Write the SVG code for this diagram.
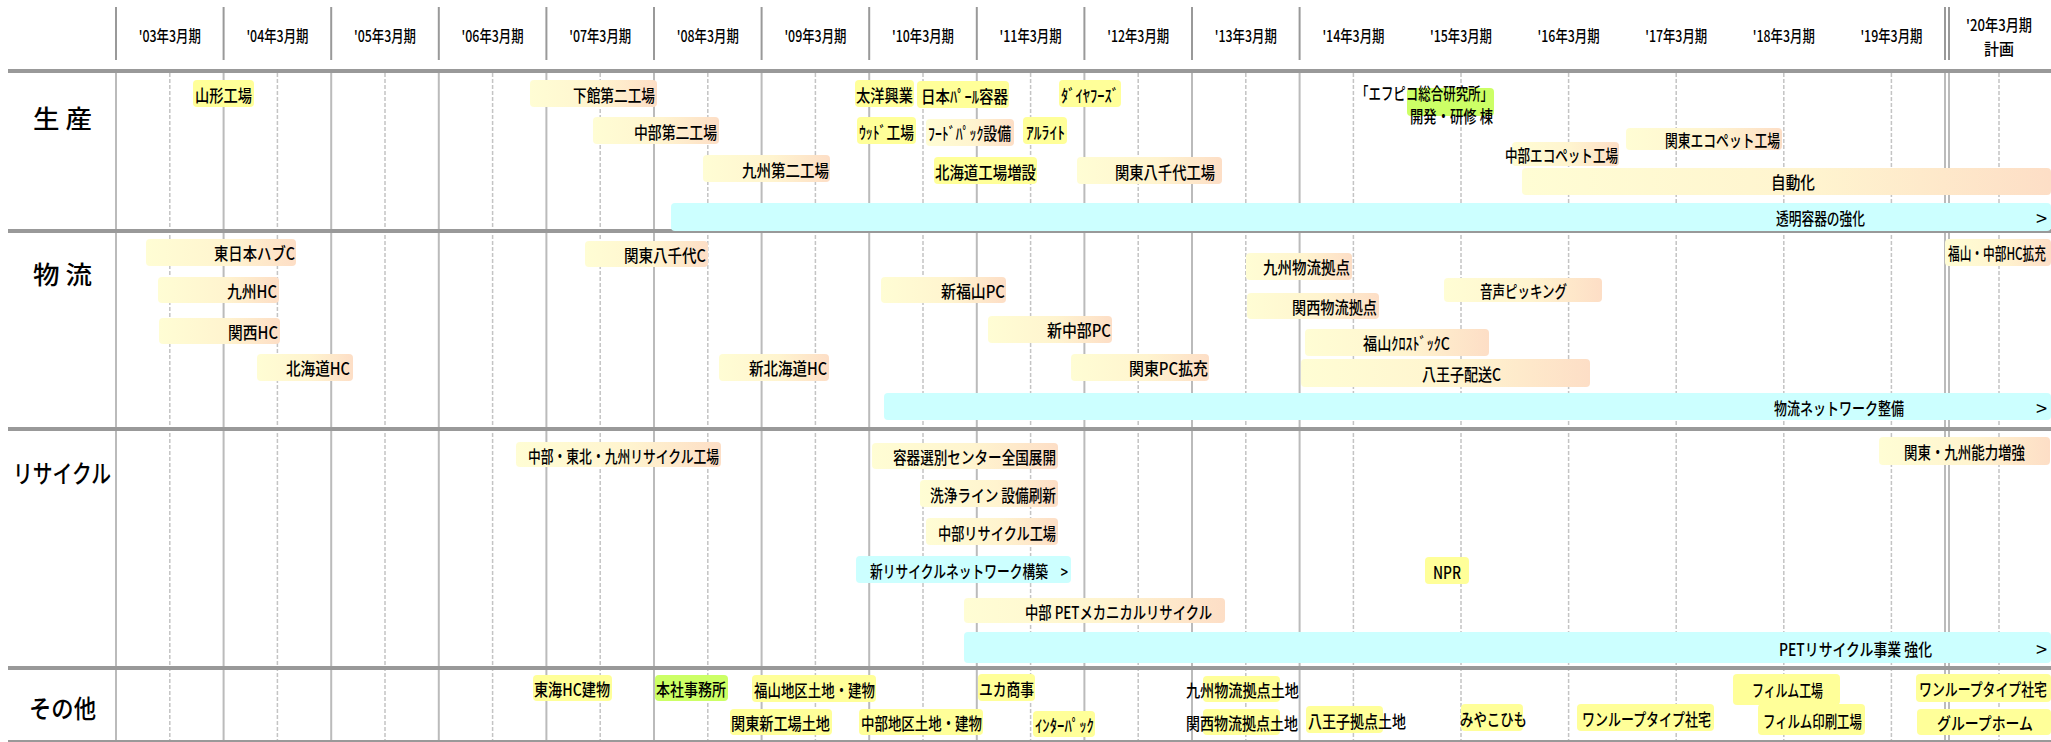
<svg xmlns="http://www.w3.org/2000/svg" width="2051" height="742" viewBox="0 0 2051 742">
<defs>
<linearGradient id="grad" x1="0" y1="0" x2="1" y2="0">
<stop offset="0" stop-color="#FFFDD4"/>
<stop offset="0.55" stop-color="#FFF4CF"/>
<stop offset="1" stop-color="#FDDEC6"/>
</linearGradient>
<style>
text{font-family:"Noto Sans CJK JP","Noto Sans CJK SC",sans-serif;fill:#000;dominant-baseline:central;font-weight:500}
.t{font-size:17px}
.h{font-size:16px;text-anchor:middle}
.L{font-size:25px}
.g{fill:url(#grad)}
.y{fill:#FFFF99}
.gr{fill:#CCFF66}
.c{fill:#CCFFFF}
.hs{stroke:#999999;stroke-width:2}
.vs{stroke:#BBBBBB;stroke-width:2}
.vd{stroke:#C4C4C4;stroke-width:1.5;stroke-dasharray:4 2}
.hl{stroke:#999999;stroke-width:4}
.ar{font-size:20px;font-weight:400}
</style>
</defs>
<rect width="2051" height="742" fill="#FFFFFF"/>
<g id="grid">
<g id="header-separators">
<line class="hs" x1="116" y1="7" x2="116" y2="60"/>
<line class="hs" x1="223.6" y1="7" x2="223.6" y2="60"/>
<line class="hs" x1="331.2" y1="7" x2="331.2" y2="60"/>
<line class="hs" x1="438.8" y1="7" x2="438.8" y2="60"/>
<line class="hs" x1="546.4" y1="7" x2="546.4" y2="60"/>
<line class="hs" x1="654" y1="7" x2="654" y2="60"/>
<line class="hs" x1="761.6" y1="7" x2="761.6" y2="60"/>
<line class="hs" x1="869.2" y1="7" x2="869.2" y2="60"/>
<line class="hs" x1="976.8" y1="7" x2="976.8" y2="60"/>
<line class="hs" x1="1084.4" y1="7" x2="1084.4" y2="60"/>
<line class="hs" x1="1192" y1="7" x2="1192" y2="60"/>
<line class="hs" x1="1299.6" y1="7" x2="1299.6" y2="60"/>
<line class="hs" x1="1945" y1="7" x2="1945" y2="60"/>
<line class="hs" x1="1949" y1="7" x2="1949" y2="60"/>
</g>
<g id="dashed">
<line class="vd" x1="169.8" y1="73" x2="169.8" y2="742"/>
<line class="vd" x1="277.4" y1="73" x2="277.4" y2="742"/>
<line class="vd" x1="385" y1="73" x2="385" y2="742"/>
<line class="vd" x1="492.6" y1="73" x2="492.6" y2="742"/>
<line class="vd" x1="600.2" y1="73" x2="600.2" y2="742"/>
<line class="vd" x1="707.8" y1="73" x2="707.8" y2="742"/>
<line class="vd" x1="815.4" y1="73" x2="815.4" y2="742"/>
<line class="vd" x1="923" y1="73" x2="923" y2="742"/>
<line class="vd" x1="1030.6" y1="73" x2="1030.6" y2="742"/>
<line class="vd" x1="1138.2" y1="73" x2="1138.2" y2="742"/>
<line class="vd" x1="1245.8" y1="73" x2="1245.8" y2="742"/>
<line class="vd" x1="1353.4" y1="73" x2="1353.4" y2="742"/>
<line class="vd" x1="1461" y1="73" x2="1461" y2="742"/>
<line class="vd" x1="1568.6" y1="73" x2="1568.6" y2="742"/>
<line class="vd" x1="1676.2" y1="73" x2="1676.2" y2="742"/>
<line class="vd" x1="1783.8" y1="73" x2="1783.8" y2="742"/>
<line class="vd" x1="1891.4" y1="73" x2="1891.4" y2="742"/>
<line class="vd" x1="1999" y1="73" x2="1999" y2="742"/>
</g>
<g id="solid">
<line class="vs" x1="116" y1="73" x2="116" y2="742"/>
<line class="vs" x1="223.6" y1="73" x2="223.6" y2="742"/>
<line class="vs" x1="331.2" y1="73" x2="331.2" y2="742"/>
<line class="vs" x1="438.8" y1="73" x2="438.8" y2="742"/>
<line class="vs" x1="546.4" y1="73" x2="546.4" y2="742"/>
<line class="vs" x1="654" y1="73" x2="654" y2="742"/>
<line class="vs" x1="761.6" y1="73" x2="761.6" y2="742"/>
<line class="vs" x1="869.2" y1="73" x2="869.2" y2="742"/>
<line class="vs" x1="976.8" y1="73" x2="976.8" y2="742"/>
<line class="vs" x1="1084.4" y1="73" x2="1084.4" y2="742"/>
<line class="vs" x1="1192" y1="73" x2="1192" y2="742"/>
<line class="vs" x1="1299.6" y1="73" x2="1299.6" y2="742"/>
<line class="vs" x1="1945" y1="73" x2="1945" y2="742"/>
<line class="vs" x1="1949" y1="73" x2="1949" y2="742"/>
</g>
<g id="row-lines">
<line class="hl" x1="8" y1="71" x2="2051" y2="71"/>
<line class="hl" x1="8" y1="231" x2="2051" y2="231"/>
<line class="hl" x1="8" y1="429" x2="2051" y2="429"/>
<line class="hl" x1="8" y1="668" x2="2051" y2="668"/>
<line class="hl" x1="8" y1="741" x2="2051" y2="741" style="stroke-width:2"/>
</g>
</g>
<g id="header">
<text class="h" x="169.8" y="35" textLength="62" lengthAdjust="spacingAndGlyphs">'03年3月期</text>
<text class="h" x="277.4" y="35" textLength="62" lengthAdjust="spacingAndGlyphs">'04年3月期</text>
<text class="h" x="385" y="35" textLength="62" lengthAdjust="spacingAndGlyphs">'05年3月期</text>
<text class="h" x="492.6" y="35" textLength="62" lengthAdjust="spacingAndGlyphs">'06年3月期</text>
<text class="h" x="600.2" y="35" textLength="62" lengthAdjust="spacingAndGlyphs">'07年3月期</text>
<text class="h" x="707.8" y="35" textLength="62" lengthAdjust="spacingAndGlyphs">'08年3月期</text>
<text class="h" x="815.4" y="35" textLength="62" lengthAdjust="spacingAndGlyphs">'09年3月期</text>
<text class="h" x="923" y="35" textLength="62" lengthAdjust="spacingAndGlyphs">'10年3月期</text>
<text class="h" x="1030.6" y="35" textLength="62" lengthAdjust="spacingAndGlyphs">'11年3月期</text>
<text class="h" x="1138.2" y="35" textLength="62" lengthAdjust="spacingAndGlyphs">'12年3月期</text>
<text class="h" x="1245.8" y="35" textLength="62" lengthAdjust="spacingAndGlyphs">'13年3月期</text>
<text class="h" x="1353.4" y="35" textLength="62" lengthAdjust="spacingAndGlyphs">'14年3月期</text>
<text class="h" x="1461" y="35" textLength="62" lengthAdjust="spacingAndGlyphs">'15年3月期</text>
<text class="h" x="1568.6" y="35" textLength="62" lengthAdjust="spacingAndGlyphs">'16年3月期</text>
<text class="h" x="1676.2" y="35" textLength="62" lengthAdjust="spacingAndGlyphs">'17年3月期</text>
<text class="h" x="1783.8" y="35" textLength="62" lengthAdjust="spacingAndGlyphs">'18年3月期</text>
<text class="h" x="1891.4" y="35" textLength="62" lengthAdjust="spacingAndGlyphs">'19年3月期</text>
<text class="h" x="1999" y="24" textLength="66" lengthAdjust="spacingAndGlyphs">'20年3月期</text>
<text class="h" x="1999" y="48" textLength="30" lengthAdjust="spacingAndGlyphs">計画</text>
</g>
<g id="row-labels">
<text class="L" x="33" y="117" textLength="59" lengthAdjust="spacingAndGlyphs">生 産</text>
<text class="L" x="33" y="273" textLength="59" lengthAdjust="spacingAndGlyphs">物 流</text>
<text class="L" x="13" y="472" textLength="98" lengthAdjust="spacingAndGlyphs">リサイクル</text>
<text class="L" x="29" y="707" textLength="67" lengthAdjust="spacingAndGlyphs">その他</text>
</g>
<g id="seisan">
<g id="n1"><rect class="y" x="193" y="80" width="61" height="27" rx="4"/><text class="t" x="195" y="94" textLength="57" lengthAdjust="spacingAndGlyphs">山形工場</text></g>
<g id="n2"><rect class="g" x="530" y="80" width="127" height="27" rx="4"/><text class="t" x="573" y="94" textLength="82" lengthAdjust="spacingAndGlyphs">下館第二工場</text></g>
<g id="n3"><rect class="g" x="593" y="117" width="126" height="27" rx="4"/><text class="t" x="634" y="131" textLength="83" lengthAdjust="spacingAndGlyphs">中部第二工場</text></g>
<g id="n4"><rect class="g" x="703" y="155" width="127" height="27" rx="4"/><text class="t" x="742" y="169" textLength="87" lengthAdjust="spacingAndGlyphs">九州第二工場</text></g>
<g id="n5"><rect class="y" x="855" y="80" width="59" height="27" rx="4"/><text class="t" x="856" y="94" textLength="57" lengthAdjust="spacingAndGlyphs">太洋興業</text></g>
<g id="n6"><rect class="y" x="917" y="81" width="92" height="27" rx="4"/><text class="t" x="921" y="95" textLength="87" lengthAdjust="spacingAndGlyphs">日本ﾊﾟｰﾙ容器</text></g>
<g id="n7"><rect class="y" x="1059" y="80" width="62" height="27" rx="4"/><text class="t" x="1061" y="94" textLength="58" lengthAdjust="spacingAndGlyphs">ﾀﾞｲﾔﾌｰｽﾞ</text></g>
<g id="n8"><rect class="y" x="857" y="117" width="59" height="27" rx="4"/><text class="t" x="859" y="131" textLength="55" lengthAdjust="spacingAndGlyphs">ｳｯﾄﾞ工場</text></g>
<g id="n9"><rect class="g" x="926" y="119" width="88" height="27" rx="4"/><text class="t" x="928" y="132" textLength="83" lengthAdjust="spacingAndGlyphs">ﾌｰﾄﾞﾊﾟｯｸ設備</text></g>
<g id="n10"><rect class="y" x="1023" y="117" width="44" height="27" rx="4"/><text class="t" x="1026" y="131" textLength="39" lengthAdjust="spacingAndGlyphs">ｱﾙﾗｲﾄ</text></g>
<g id="n11"><rect class="y" x="934" y="157" width="103" height="27" rx="4"/><text class="t" x="935" y="171" textLength="101" lengthAdjust="spacingAndGlyphs">北海道工場増設</text></g>
<g id="n12"><rect class="g" x="1077" y="157" width="145" height="27" rx="4"/><text class="t" x="1115" y="171" textLength="100" lengthAdjust="spacingAndGlyphs">関東八千代工場</text></g>
<g id="n13"><rect class="gr" x="1407" y="88" width="87" height="28" rx="4"/><text class="t" x="1356" y="92" textLength="137" lengthAdjust="spacingAndGlyphs">「エフピコ総合研究所」</text><text class="t" x="1410" y="115" textLength="83" lengthAdjust="spacingAndGlyphs">開発・研修 棟</text></g>
<g id="n14"><rect class="g" x="1626" y="128" width="156" height="22" rx="4"/><text class="t" x="1665" y="139" textLength="115" lengthAdjust="spacingAndGlyphs">関東エコペット工場</text></g>
<g id="n15"><rect class="g" x="1512" y="142" width="107" height="24" rx="4"/><text class="t" x="1505" y="154" textLength="113" lengthAdjust="spacingAndGlyphs">中部エコペット工場</text></g>
<g id="n16"><rect class="g" x="1522" y="168" width="529" height="27" rx="4"/><text class="t" x="1771" y="181" textLength="44" lengthAdjust="spacingAndGlyphs">自動化</text></g>
<g id="n17"><rect class="c" x="671" y="203" width="1380" height="28" rx="4"/><text class="t" x="1776" y="217" textLength="89" lengthAdjust="spacingAndGlyphs">透明容器の強化</text><text class="ar" x="2036" y="217">&gt;</text></g>
</g>
<g id="butsuryu">
<g id="n18"><rect class="g" x="146" y="239" width="150" height="27" rx="4"/><text class="t" x="214" y="252" textLength="81" lengthAdjust="spacingAndGlyphs">東日本ハブC</text></g>
<g id="n19"><rect class="g" x="158" y="277" width="121" height="26" rx="4"/><text class="t" x="227" y="290" textLength="50" lengthAdjust="spacingAndGlyphs">九州HC</text></g>
<g id="n20"><rect class="g" x="159" y="318" width="121" height="26" rx="4"/><text class="t" x="228" y="331" textLength="50" lengthAdjust="spacingAndGlyphs">関西HC</text></g>
<g id="n21"><rect class="g" x="257" y="354" width="96" height="27" rx="4"/><text class="t" x="286" y="367" textLength="64" lengthAdjust="spacingAndGlyphs">北海道HC</text></g>
<g id="n22"><rect class="g" x="585" y="241" width="123" height="26" rx="4"/><text class="t" x="624" y="254" textLength="82" lengthAdjust="spacingAndGlyphs">関東八千代C</text></g>
<g id="n23"><rect class="g" x="719" y="354" width="110" height="27" rx="4"/><text class="t" x="749" y="367" textLength="78" lengthAdjust="spacingAndGlyphs">新北海道HC</text></g>
<g id="n24"><rect class="g" x="881" y="277" width="125" height="26" rx="4"/><text class="t" x="941" y="290" textLength="64" lengthAdjust="spacingAndGlyphs">新福山PC</text></g>
<g id="n25"><rect class="g" x="988" y="316" width="124" height="27" rx="4"/><text class="t" x="1047" y="329" textLength="64" lengthAdjust="spacingAndGlyphs">新中部PC</text></g>
<g id="n26"><rect class="g" x="1071" y="354" width="138" height="27" rx="4"/><text class="t" x="1129" y="367" textLength="79" lengthAdjust="spacingAndGlyphs">関東PC拡充</text></g>
<g id="n27"><rect class="g" x="1246" y="253" width="106" height="27" rx="4"/><text class="t" x="1263" y="266" textLength="87" lengthAdjust="spacingAndGlyphs">九州物流拠点</text></g>
<g id="n28"><rect class="g" x="1247" y="293" width="132" height="26" rx="4"/><text class="t" x="1292" y="306" textLength="85" lengthAdjust="spacingAndGlyphs">関西物流拠点</text></g>
<g id="n29"><rect class="g" x="1305" y="329" width="184" height="27" rx="4"/><text class="t" x="1363" y="342" textLength="87" lengthAdjust="spacingAndGlyphs">福山ｸﾛｽﾄﾞｯｸC</text></g>
<g id="n30"><rect class="g" x="1301" y="359" width="289" height="28" rx="4"/><text class="t" x="1422" y="373" textLength="79" lengthAdjust="spacingAndGlyphs">八王子配送C</text></g>
<g id="n31"><rect class="g" x="1444" y="278" width="158" height="24" rx="4"/><text class="t" x="1480" y="290" textLength="87" lengthAdjust="spacingAndGlyphs">音声ピッキング</text></g>
<g id="n32"><rect class="g" x="1945" y="239" width="106" height="27" rx="4"/><text class="t" x="1948" y="252" textLength="98" lengthAdjust="spacingAndGlyphs">福山・中部HC拡充</text></g>
<g id="n33"><rect class="c" x="884" y="393" width="1167" height="27" rx="4"/><text class="t" x="1774" y="407" textLength="130" lengthAdjust="spacingAndGlyphs">物流ネットワーク整備</text><text class="ar" x="2036" y="407">&gt;</text></g>
</g>
<g id="recycle">
<g id="n34"><rect class="g" x="516" y="442" width="205" height="25" rx="4"/><text class="t" x="528" y="455" textLength="191" lengthAdjust="spacingAndGlyphs">中部・東北・九州リサイクル工場</text></g>
<g id="n35"><rect class="g" x="872" y="443" width="186" height="26" rx="4"/><text class="t" x="893" y="456" textLength="163" lengthAdjust="spacingAndGlyphs">容器選別センター全国展開</text></g>
<g id="n36"><rect class="g" x="920" y="480" width="138" height="27" rx="4"/><text class="t" x="930" y="494" textLength="126" lengthAdjust="spacingAndGlyphs">洗浄ライン 設備刷新</text></g>
<g id="n37"><rect class="g" x="926" y="518" width="132" height="27" rx="4"/><text class="t" x="938" y="532" textLength="118" lengthAdjust="spacingAndGlyphs">中部リサイクル工場</text></g>
<g id="n38"><rect class="c" x="856" y="556" width="215" height="27" rx="4"/><text class="t" x="870" y="570" textLength="198" lengthAdjust="spacingAndGlyphs">新リサイクルネットワーク構築　&gt;</text></g>
<g id="n39"><rect class="y" x="1425" y="557" width="44" height="27" rx="4"/><text class="t" x="1433" y="571" textLength="28" lengthAdjust="spacingAndGlyphs">NPR</text></g>
<g id="n40"><rect class="g" x="964" y="598" width="261" height="25" rx="4"/><text class="t" x="1025" y="611" textLength="187" lengthAdjust="spacingAndGlyphs">中部 PETメカニカルリサイクル</text></g>
<g id="n41"><rect class="c" x="964" y="632" width="1087" height="31" rx="4"/><text class="t" x="1779" y="648" textLength="153" lengthAdjust="spacingAndGlyphs">PETリサイクル事業 強化</text><text class="ar" x="2036" y="648">&gt;</text></g>
<g id="n42"><rect class="g" x="1879" y="437" width="171" height="28" rx="4"/><text class="t" x="1904" y="451" textLength="121" lengthAdjust="spacingAndGlyphs">関東・九州能力増強</text></g>
</g>
<g id="sonota">
<g id="n43"><rect class="y" x="533" y="675" width="79" height="26" rx="4"/><text class="t" x="534" y="688" textLength="76" lengthAdjust="spacingAndGlyphs">東海HC建物</text></g>
<g id="n44"><rect class="gr" x="655" y="675" width="73" height="26" rx="4"/><text class="t" x="656" y="688" textLength="70" lengthAdjust="spacingAndGlyphs">本社事務所</text></g>
<g id="n45"><rect class="y" x="752" y="675" width="124" height="27" rx="4"/><text class="t" x="754" y="689" textLength="121" lengthAdjust="spacingAndGlyphs">福山地区土地・建物</text></g>
<g id="n46"><rect class="y" x="978" y="674" width="57" height="27" rx="4"/><text class="t" x="979" y="688" textLength="55" lengthAdjust="spacingAndGlyphs">ユカ商事</text></g>
<g id="n47"><rect class="y" x="1203" y="676" width="77" height="26" rx="4"/><text class="t" x="1186" y="689" textLength="113" lengthAdjust="spacingAndGlyphs">九州物流拠点土地</text></g>
<g id="n48"><rect class="y" x="730" y="709" width="102" height="26" rx="4"/><text class="t" x="731" y="722" textLength="99" lengthAdjust="spacingAndGlyphs">関東新工場土地</text></g>
<g id="n49"><rect class="y" x="859" y="709" width="124" height="26" rx="4"/><text class="t" x="861" y="722" textLength="121" lengthAdjust="spacingAndGlyphs">中部地区土地・建物</text></g>
<g id="n50"><rect class="y" x="1033" y="711" width="62" height="26" rx="4"/><text class="t" x="1035" y="724" textLength="59" lengthAdjust="spacingAndGlyphs">ｲﾝﾀｰﾊﾟｯｸ</text></g>
<g id="n51"><rect class="y" x="1203" y="709" width="77" height="26" rx="4"/><text class="t" x="1186" y="722" textLength="112" lengthAdjust="spacingAndGlyphs">関西物流拠点土地</text></g>
<g id="n52"><rect class="y" x="1306" y="706" width="77" height="27" rx="4"/><text class="t" x="1308" y="720" textLength="98" lengthAdjust="spacingAndGlyphs">八王子拠点土地</text></g>
<g id="n53"><rect class="y" x="1461" y="704" width="62" height="27" rx="4"/><text class="t" x="1460" y="718" textLength="67" lengthAdjust="spacingAndGlyphs">みやこひも</text></g>
<g id="n54"><rect class="y" x="1577" y="704" width="137" height="27" rx="4"/><text class="t" x="1582" y="718" textLength="129" lengthAdjust="spacingAndGlyphs">ワンループタイプ社宅</text></g>
<g id="n55"><rect class="y" x="1733" y="674" width="107" height="31" rx="4"/><text class="t" x="1752" y="689" textLength="71" lengthAdjust="spacingAndGlyphs">フィルム工場</text></g>
<g id="n56"><rect class="y" x="1758" y="704" width="107" height="31" rx="4"/><text class="t" x="1763" y="720" textLength="99" lengthAdjust="spacingAndGlyphs">フィルム印刷工場</text></g>
<g id="n57"><rect class="y" x="1916" y="674" width="135" height="28" rx="4"/><text class="t" x="1919" y="688" textLength="128" lengthAdjust="spacingAndGlyphs">ワンループタイプ社宅</text></g>
<g id="n58"><rect class="y" x="1917" y="709" width="134" height="26" rx="4"/><text class="t" x="1937" y="722" textLength="96" lengthAdjust="spacingAndGlyphs">グループホーム</text></g>
</g>
</svg>
